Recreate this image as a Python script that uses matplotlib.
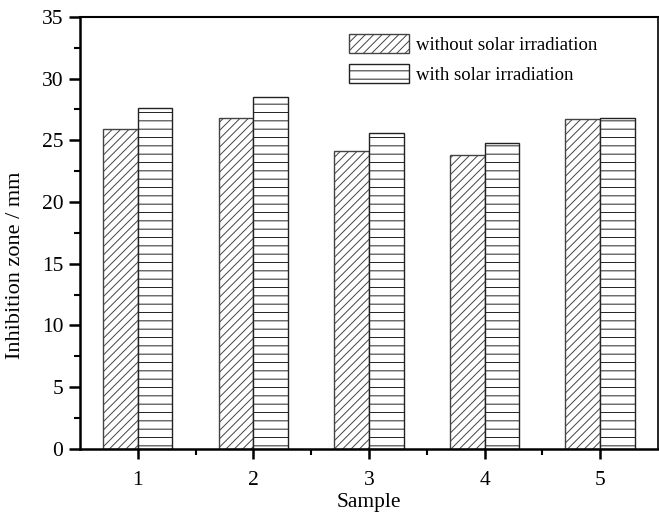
import matplotlib
matplotlib.use('Agg')
import matplotlib.pyplot as plt
import numpy as np

# data
samples = [1, 2, 3, 4, 5]
without_solar = [25.9, 26.8, 24.1, 23.8, 26.7]
with_solar = [27.6, 28.5, 25.6, 24.8, 26.8]

plt.rcParams['font.family'] = ['Liberation Serif', 'DejaVu Serif']
plt.rcParams['hatch.linewidth'] = 0.7

fig = plt.figure(figsize=(6.59, 5.13), dpi=100)
ax = fig.add_axes([0.1214, 0.1248, 0.877, 0.8425])

x = np.array(samples)
w = 0.3
ax.bar(x - w / 2, without_solar, w, color='white', edgecolor='#444444',
       linewidth=1.0, hatch='////', label='without solar irradiation')
ax.bar(x + w / 2, with_solar, w, color='white', edgecolor='#222222',
       linewidth=1.0, hatch='--', label='with solar irradiation')

ax.set_xlim(0.5, 5.5)
ax.set_ylim(0, 35)
ax.set_xticks(samples)
ax.set_xticks(np.arange(1.5, 5.5, 1), minor=True)
ax.set_yticks(np.arange(0, 36, 5))
ax.set_yticks(np.arange(2.5, 35, 5), minor=True)

for s in ax.spines.values():
    s.set_linewidth(1.8)
ax.spines['top'].set_linewidth(1.5)
ax.spines['right'].set_linewidth(1.2)

ax.tick_params(which='major', direction='out', length=8, width=1.8,
               labelsize=15.5, pad=4)
ax.tick_params(which='minor', direction='out', length=4, width=1.5)
ax.tick_params(axis='x', which='major', length=7, pad=9)

ax.set_xlabel('Sample', fontsize=15.5, labelpad=2)
ax.set_ylabel('Inhibition zone / mm', fontsize=16)
ax.yaxis.set_label_coords(-0.095, 0.426)

leg = ax.legend(loc='upper right', bbox_to_anchor=(0.925, 1.0), frameon=False,
                fontsize=13.5, handlelength=3.2, handleheight=1.2,
                handletextpad=0.4, labelspacing=0.55)

fig.savefig('out.png', dpi=100)
